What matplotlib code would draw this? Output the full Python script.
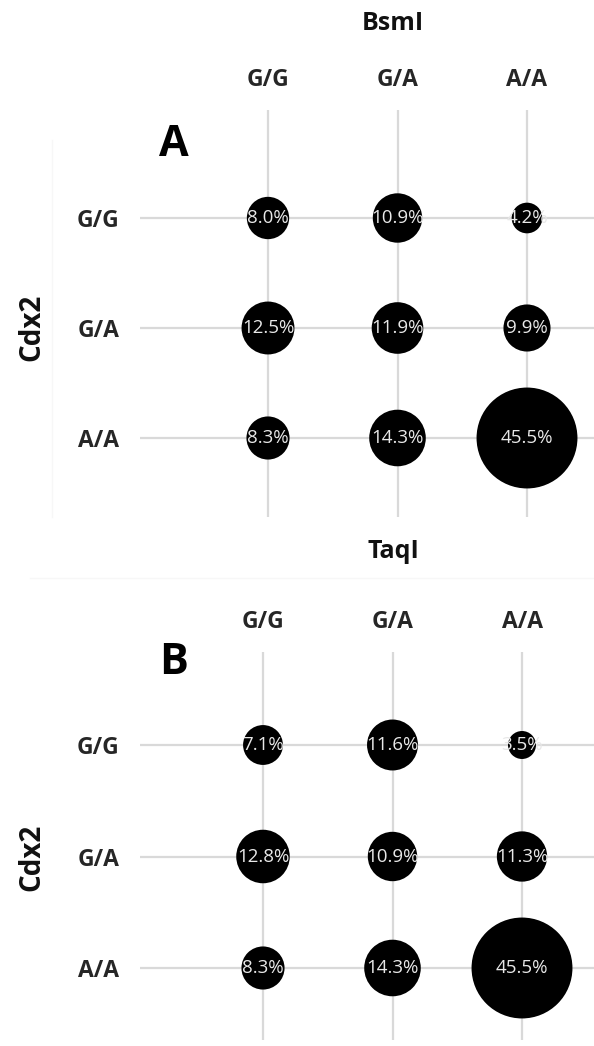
import matplotlib
matplotlib.use("Agg")
import matplotlib.pyplot as plt
from matplotlib.lines import Line2D

# ---- data ----
genotypes = ["G/G", "G/A", "A/A"]
row_var = "Cdx2"
panel_letters = ["A", "B"]
panel_titles = ["BsmI", "TaqI"]
# rows = Cdx2 genotype, columns = BsmI / TaqI genotype (percent)
bsmi_values = [
    [8.0, 10.9, 4.2],
    [12.5, 11.9, 9.9],
    [8.3, 14.3, 45.5],
]
taqi_values = [
    [7.1, 11.6, 3.5],
    [12.8, 10.9, 11.3],
    [8.3, 14.3, 45.5],
]

W, H = 594, 1046
DPI = 100
fig = plt.figure(figsize=(W / DPI, H / DPI), dpi=DPI)
fig.patch.set_facecolor("white")

LABEL_FONT = ["Open Sans", "DejaVu Sans"]
PCT_FONT = ["Open Sans", "DejaVu Sans"]
SIZE_K = 116.0  # points^2 per percent
GRID_C = "#d9d9d9"


def px_axes(left, top, right, bottom):
    return fig.add_axes([left / W, 1 - bottom / H, (right - left) / W, (bottom - top) / H])


def draw_panel(values, letter, title, box, col_px, row_px, title_y, letter_y, ylab_y):
    left, top, right, bottom = box
    ax = px_axes(left, top, right, bottom)
    xs = (col_px[2] - col_px[0]) / 2.0
    ys = (row_px[2] - row_px[0]) / 2.0
    ax.set_xlim((left - col_px[0]) / xs, (right - col_px[0]) / xs)
    ax.set_ylim((bottom - row_px[0]) / ys, (top - row_px[0]) / ys)
    ax.set_facecolor("none")
    for s in ax.spines.values():
        s.set_visible(False)
    ax.set_xticks(range(len(genotypes)))
    ax.set_yticks(range(len(genotypes)))
    ax.set_xticklabels(genotypes)
    ax.set_yticklabels(genotypes)
    ax.xaxis.tick_top()
    ax.tick_params(axis="x", length=0, pad=13)
    ax.tick_params(axis="y", length=0, pad=15)
    for lab in ax.get_xticklabels() + ax.get_yticklabels():
        lab.set_family(LABEL_FONT)
        lab.set_fontweight("bold")
        lab.set_fontsize(16.5)
        lab.set_color("#262626")
    ax.grid(True, color=GRID_C, linewidth=1.6, zorder=0)
    ax.set_axisbelow(True)

    xs_pts, ys_pts, sizes, labels = [], [], [], []
    for r, row in enumerate(values):
        for c, v in enumerate(row):
            xs_pts.append(c)
            ys_pts.append(r)
            sizes.append(SIZE_K * v)
            labels.append(f"{v:.1f}%")
    ax.scatter(xs_pts, ys_pts, s=sizes, c="black", edgecolors="none", zorder=2)
    for x, y, t in zip(xs_pts, ys_pts, labels):
        ax.text(x, y, t, ha="center", va="center", color="#e8e8e8",
                fontsize=13.5, family=PCT_FONT, zorder=3)
    # title
    fig.text(393 / W, 1 - title_y / H, title, ha="center", va="center",
             family=LABEL_FONT, fontweight="bold", fontsize=18, color="#111111")
    # panel letter
    fig.text(174 / W, 1 - letter_y / H, letter, ha="center", va="center",
             family=LABEL_FONT, fontweight="bold", fontsize=31, color="black")
    # row variable label
    fig.text(32 / W, 1 - ylab_y / H, row_var, ha="center", va="center", rotation=90,
             family=LABEL_FONT, fontweight="bold", fontsize=20, color="#111111")
    return ax


draw_panel(bsmi_values, panel_letters[0], panel_titles[0],
           (140, 110, 594, 517), [268, 398, 527], [218, 328, 438],
           title_y=24, letter_y=144, ylab_y=327)
draw_panel(taqi_values, panel_letters[1], panel_titles[1],
           (140, 652, 594, 1040), [263, 392, 522], [745, 857, 968],
           title_y=552, letter_y=662, ylab_y=857)

# faint panel frame remnants
fig.add_artist(Line2D([52 / W, 52 / W], [1 - 140 / H, 1 - 517 / H], color="#f7f7f7", lw=1))
fig.add_artist(Line2D([30 / W, 1.0], [1 - 578 / H, 1 - 578 / H], color="#f7f7f7", lw=1))

fig.savefig("out.png", dpi=DPI, facecolor="white")
